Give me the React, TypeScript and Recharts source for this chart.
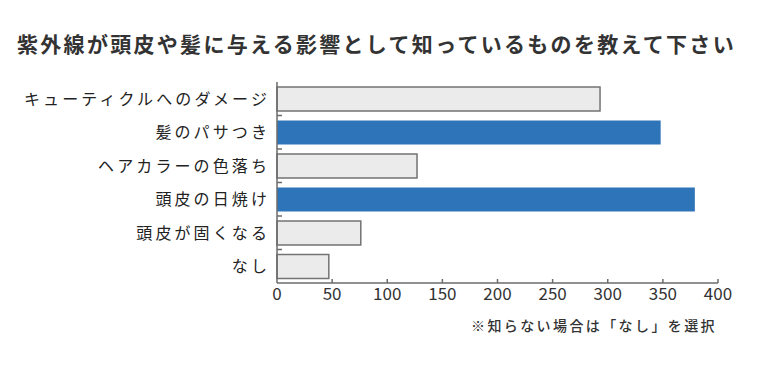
// @ts-nocheck
import { BarChart, Bar, XAxis, YAxis, Cell } from 'recharts';

const categories = ['キューティクルへのダメージ', '髪のパサつき', 'ヘアカラーの色落ち', '頭皮の日焼け', '頭皮が固くなる', 'なし'];
const counts = [293, 348, 127, 379, 76, 47];
const highlighted = [false, true, false, true, false, false];
const xTicks = [0, 50, 100, 150, 200, 250, 300, 350, 400];

const title = '紫外線が頭皮や髪に与える影響として知っているものを教えて下さい';
const note = '※知らない場合は「なし」を選択';

const data = categories.map((name, i) => ({ name, value: counts[i], hl: highlighted[i] }));

const FONT = '"Noto Sans CJK JP", "Noto Sans", sans-serif';
const AXIS = '#6b6b6b';

function XTick({ x, y, payload }: any) {
  return (
    <g>
      {payload.value !== 0 && <line x1={x} x2={x} y1={y - 4} y2={y} stroke={AXIS} strokeWidth={1.5} />}
      <text x={x} y={y + 17} textAnchor="middle" fontSize={17} fill="#333" fontFamily={FONT}>
        {payload.value}
      </text>
    </g>
  );
}

function YTick({ x, y, payload, index, height, visibleTicksCount }: any) {
  const band = height && visibleTicksCount ? height / visibleTicksCount : 33.5;
  return (
    <g>
      {index > 0 && <line x1={x} x2={x + 5} y1={y - band / 2} y2={y - band / 2} stroke={AXIS} strokeWidth={1.5} />}
      <text x={x - 7} y={y + 6} textAnchor="end" fontSize={16} letterSpacing={3.1} fill="#222" fontFamily={FONT}>
        {payload.value}
      </text>
    </g>
  );
}

export default function App() {
  return (
    <div style={{ position: 'absolute', left: 0, top: 0, width: 758, height: 373, background: '#fff', fontFamily: FONT }}>
      <div style={{ position: 'absolute', left: 17, top: 29, fontSize: 21, fontWeight: 600, letterSpacing: 2.3, color: '#333', whiteSpace: 'nowrap', lineHeight: '28px' }}>
        {title}
      </div>
      <BarChart
        width={758}
        height={373}
        data={data}
        layout="vertical"
        margin={{ top: 82, right: 40, left: 0, bottom: 60 }}
      >
        <XAxis
          type="number"
          domain={[0, 400]}
          ticks={xTicks}
          height={30}
          tickLine={false}
          tickSize={0}
          tickMargin={0}
          axisLine={{ stroke: AXIS, strokeWidth: 1.5 }}
          tick={<XTick />}
        />
        <YAxis
          type="category"
          dataKey="name"
          width={277}
          tickLine={false}
          tickSize={0}
          tickMargin={0}
          interval={0}
          axisLine={{ stroke: AXIS, strokeWidth: 1.5 }}
          tick={<YTick />}
        />
        <Bar dataKey="value" barSize={24} isAnimationActive={false}>
          {data.map((d, i) => (
            <Cell key={i} fill={d.hl ? '#2e74b8' : '#ebebeb'} stroke={d.hl ? 'none' : '#737373'} strokeWidth={d.hl ? 0 : 1.5} />
          ))}
        </Bar>
      </BarChart>
      <div style={{ position: 'absolute', right: 41, top: 315, fontSize: 14, fontWeight: 500, letterSpacing: 2.4, color: '#333', whiteSpace: 'nowrap', lineHeight: '20px' }}>
        {note}
      </div>
    </div>
  );
}
